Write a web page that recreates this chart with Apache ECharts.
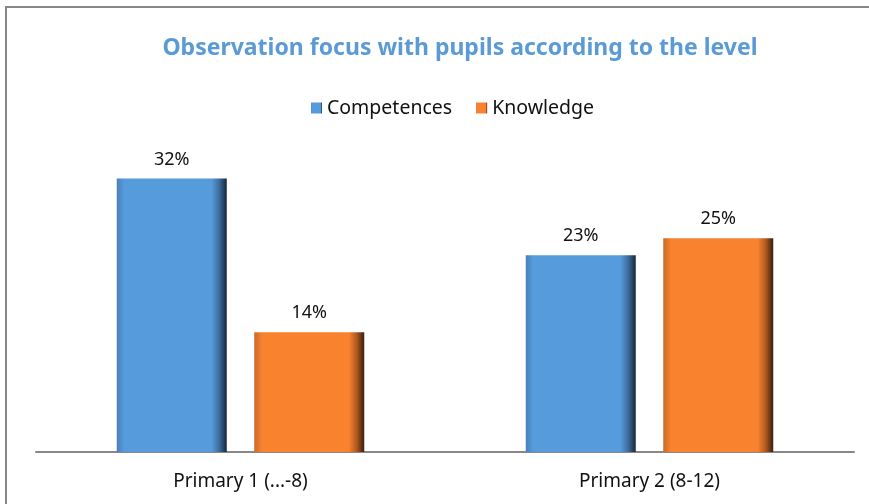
<!DOCTYPE html>
<html>
<head>
<meta charset="utf-8">
<script src="https://cdn.jsdelivr.net/npm/echarts@6/dist/echarts.min.js"></script>
<style>
  html, body { margin: 0; padding: 0; background: #fff; }
  #chart { width: 869px; height: 504px; }
</style>
</head>
<body>
<div id="chart"></div>
<script>
// data (percent)
var categories = ['Primary 1 (...-8)', 'Primary 2 (8-12)'];
var competences = [32, 23];
var knowledge = [14, 25];

var chart = echarts.init(document.getElementById('chart'));

// bevel-ish look: dark right edge, slightly darker left edge
function bevel(left, body, right, dark) {
    return new echarts.graphic.LinearGradient(0, 0, 1, 0, [
        { offset: 0, color: left },
        { offset: 0.07, color: body },
        { offset: 0.86, color: body },
        { offset: 0.93, color: right },
        { offset: 1, color: dark }
    ]);
}

var labelStyle = {
    show: true, position: 'top', distance: 10, formatter: '{c}%',
    fontFamily: 'Noto Sans', fontSize: 18, color: '#111'
};

var option = {
    backgroundColor: '#fff',
    animation: false,
    title: {
        text: 'Observation focus with pupils according to the level',
        left: 455,
        top: 32,
        textAlign: 'center',
        textStyle: {
            fontFamily: 'Noto Sans',
            fontSize: 23,
            fontWeight: 'bold',
            color: '#5B9BD5'
        }
    },
    legend: {
        top: 93,
        left: 306,
        itemWidth: 11,
        itemHeight: 11,
        itemGap: 24,
        icon: 'rect',
        textStyle: { fontFamily: 'Noto Sans', fontSize: 19.5, color: '#111' },
        data: ['Competences', 'Knowledge']
    },
    grid: { left: 36, right: 15, top: 110, bottom: 52, containLabel: false },
    xAxis: {
        type: 'category',
        data: categories,
        axisLine: { lineStyle: { color: '#888', width: 2 } },
        axisTick: { show: false },
        axisLabel: { fontFamily: 'Noto Sans', fontSize: 19, color: '#111', margin: 20 }
    },
    yAxis: {
        type: 'value',
        min: 0,
        max: 40,
        show: false
    },
    series: [
        {
            name: 'Competences',
            type: 'bar',
            data: competences,
            barWidth: 110,
            barGap: '25%',
            itemStyle: { color: bevel('#4A80B8', '#569CDD', '#3E6E9E', '#16263A') },
            label: labelStyle
        },
        {
            name: 'Knowledge',
            type: 'bar',
            data: knowledge,
            barWidth: 110,
            itemStyle: { color: bevel('#C8692A', '#F8822E', '#B05A20', '#3A1E0C') },
            label: labelStyle
        }
    ],
    color: ['#4F8ACB', '#E57A30'],
    graphic: [{
        type: 'rect',
        shape: { x: 6, y: 7, width: 880, height: 520 },
        style: { fill: null, stroke: '#888', lineWidth: 2 },
        silent: true
    }]
};

chart.setOption(option);
</script>
</body>
</html>
